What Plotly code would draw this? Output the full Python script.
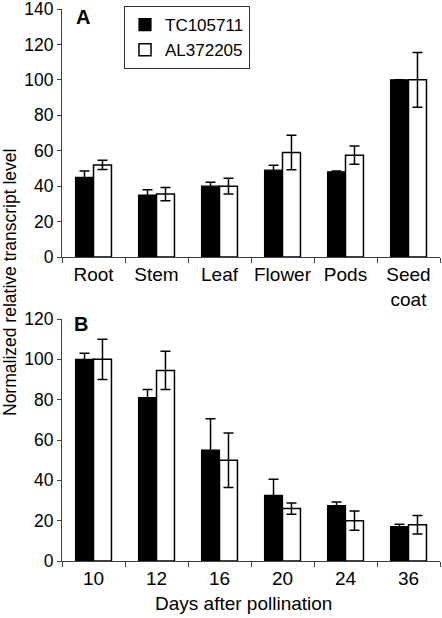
import plotly.graph_objects as go

W, H = 442, 618

tissues = ["Root", "Stem", "Leaf", "Flower", "Pods", "Seed<br>coat"]
tc_tissue = [45, 35, 40, 49, 48, 100]
tc_tissue_err = [3.5, 3, 2.2, 2.8, 0.5, 0]
al_tissue = [52, 35.5, 40, 59, 57.5, 100]
al_tissue_err = [2.6, 3.7, 4.5, 9.7, 5.2, 15.5]

days = ["10", "12", "16", "20", "24", "36"]
tc_days = [100, 81, 55, 32.5, 27.5, 17]
tc_days_err = [3, 4, 15.5, 8, 1.8, 1.2]
al_days = [100, 94.5, 50, 26, 20, 18]
al_days_err = [10, 9.5, 13.5, 2.8, 4.8, 4.6]

series_names = ["TC105711", "AL372205"]

FONT = "Liberation Sans, Arial, sans-serif"
AX = "#404040"

fig = go.Figure()

def add_pair(x, v1, e1, v2, e2, xa, ya, show):
    fig.add_trace(go.Bar(
        x=x, y=v1, name=series_names[0], xaxis=xa, yaxis=ya,
        marker=dict(color="black", line=dict(color="black", width=1.2)),
        error_y=dict(type="data", array=e1, visible=True, color="black", thickness=1.5, width=5),
        showlegend=show, legendgroup="a"))
    fig.add_trace(go.Bar(
        x=x, y=v2, name=series_names[1], xaxis=xa, yaxis=ya,
        marker=dict(color="white", line=dict(color="black", width=1.5)),
        error_y=dict(type="data", array=e2, visible=True, color="black", thickness=1.5, width=5),
        showlegend=show, legendgroup="b"))

add_pair(tissues, tc_tissue, tc_tissue_err, al_tissue, al_tissue_err, "x", "y", True)
add_pair(days, tc_days, tc_days_err, al_days, al_days_err, "x2", "y2", False)

xdom = [62 / W, 440 / W]
ydomA = [1 - 257 / H, 1 - 9 / H]
ydomB = [1 - 561 / H, 1 - 319 / H]

xcommon = dict(type="category", showline=True, linecolor=AX, linewidth=1,
               ticks="outside", tickson="boundaries", ticklen=5, tickcolor=AX,
               tickangle=0, ticklabeloverflow="allow",
               tickfont=dict(size=19, color="black", family=FONT),
               showgrid=False, zeroline=False, automargin=False, domain=xdom)
ycommon = dict(showline=True, linecolor=AX, linewidth=1, ticks="outside",
               ticklen=4, tickcolor=AX, dtick=20, ticklabeloverflow="allow",
               tickfont=dict(size=17.5, color="black", family=FONT),
               showgrid=False, zeroline=False, automargin=False)

fig.update_layout(
    width=W, height=H,
    margin=dict(l=0, r=0, t=0, b=0),
    paper_bgcolor="white", plot_bgcolor="white",
    font=dict(family=FONT, color="black", size=19),
    barmode="group", bargap=0.43, bargroupgap=0,
    xaxis=dict(**xcommon, anchor="y"),
    yaxis=dict(**ycommon, range=[0, 140], domain=ydomA, anchor="x"),
    xaxis2=dict(**xcommon, anchor="y2"),
    yaxis2=dict(**ycommon, range=[0, 120], domain=ydomB, anchor="x2"),
    legend=dict(x=124 / W, y=1 - 6 / H, xanchor="left", yanchor="top",
                bordercolor="#333333", borderwidth=1, bgcolor="white",
                font=dict(size=17, family=FONT, color="black"),
                tracegroupgap=0, itemwidth=30),
    annotations=[
        dict(text="<b>A</b>", x=74 / W, y=1 - 4 / H, xref="paper", yref="paper",
             xanchor="left", yanchor="top", showarrow=False,
             font=dict(size=20, family=FONT, color="black")),
        dict(text="<b>B</b>", x=72 / W, y=1 - 311 / H, xref="paper", yref="paper",
             xanchor="left", yanchor="top", showarrow=False,
             font=dict(size=20, family=FONT, color="black")),
        dict(text="Normalized relative transcript level", textangle=-90,
             x=10 / W, y=1 - 283 / H, xref="paper", yref="paper",
             xanchor="center", yanchor="middle", showarrow=False,
             font=dict(size=17.5, family=FONT, color="black")),
        dict(text="Days after pollination", x=243 / W, y=1 - 603 / H,
             xref="paper", yref="paper", xanchor="center", yanchor="middle",
             showarrow=False, font=dict(size=19, family=FONT, color="black")),
    ],
)

fig.write_html(
    "out.html",
    config={"displayModeBar": False},
    post_script="document.body.style.margin='0';document.body.style.padding='0';document.body.style.overflow='hidden';",
)
